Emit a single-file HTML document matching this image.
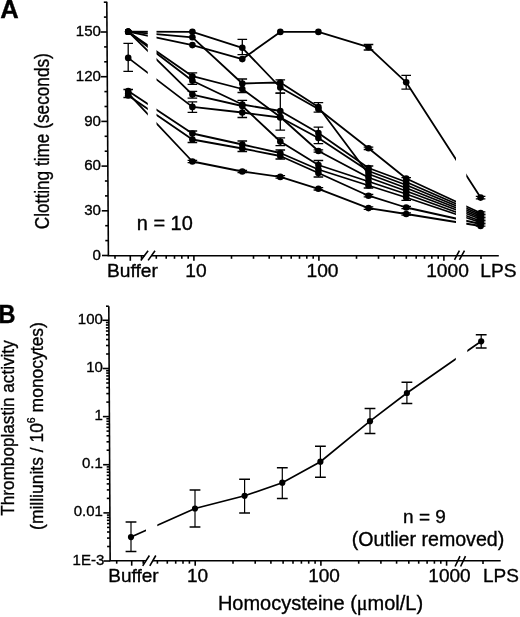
<!DOCTYPE html><html><head><meta charset="utf-8"><style>html,body{margin:0;padding:0;background:#fff;width:520px;height:617px;overflow:hidden}svg{display:block;filter:grayscale(1)}</style></head><body><svg width="520" height="617" viewBox="0 0 520 617">
<rect width="520" height="617" fill="#fff"/>
<g stroke="#000" stroke-width="1.8" fill="none" stroke-linejoin="round">
<polyline points="128.2,31.7 192.4,31.8 242.3,47.8 280.3,87.5 318.4,109.0 368.5,148.3 406.2,178.5 480.6,213.0"/>
<polyline points="128.2,31.7 192.4,37.3 242.3,83.5 280.3,82.5 318.4,107.0 368.5,174.0 406.2,188.0 480.6,217.5"/>
<polyline points="128.2,31.7 192.4,45.1 242.3,59.1 280.3,31.9 318.4,31.9 368.5,47.2 406.2,82.3 480.6,197.6"/>
<polyline points="128.2,31.7 192.4,76.2 242.3,89.0 280.3,117.0 318.4,151.0 368.5,177.5 406.2,191.0 480.6,219.0"/>
<polyline points="128.2,31.7 192.4,80.8 242.3,104.5 280.3,111.0 318.4,133.0 368.5,168.0 406.2,182.0 480.6,214.5"/>
<polyline points="128.2,31.7 192.4,94.6 242.3,106.0 280.3,141.5 318.4,165.0 368.5,181.5 406.2,194.0 480.6,221.0"/>
<polyline points="128.2,57.9 192.4,106.9 242.3,112.5 280.3,117.5 318.4,138.0 368.5,171.0 406.2,185.0 480.6,216.0"/>
<polyline points="128.2,91.1 192.4,133.5 242.3,144.5 280.3,153.0 318.4,169.5 368.5,185.5 406.2,197.5 480.6,222.5"/>
<polyline points="128.2,95.4 192.4,139.5 242.3,148.5 280.3,156.0 318.4,173.0 368.5,195.7 406.2,207.5 480.6,224.0"/>
<polyline points="128.2,93.4 192.4,161.5 242.3,171.5 280.3,176.9 318.4,188.8 368.5,208.1 406.2,214.0 480.6,226.0"/>
</g>
<rect x="147.8" y="0" width="8.7" height="250" fill="#fff"/>
<rect x="456" y="0" width="10.3" height="250" fill="#fff"/>
<g stroke="#000" stroke-width="1.3" fill="none">
<path d="M128.2 43.3V71.4M123.4 43.3H133.0M123.4 71.4H133.0"/>
<path d="M128.2 89.5V97.5M123.4 89.5H133.0M123.4 97.5H133.0"/>
<path d="M192.4 72.8V84.4M187.6 72.8H197.2M187.6 84.4H197.2"/>
<path d="M192.4 91.3V98.1M187.6 91.3H197.2M187.6 98.1H197.2"/>
<path d="M192.4 101.9V112.3M187.6 101.9H197.2M187.6 112.3H197.2"/>
<path d="M192.4 131.0V142.5M187.6 131.0H197.2M187.6 142.5H197.2"/>
<path d="M192.4 160.3V162.7M187.6 160.3H197.2M187.6 162.7H197.2"/>
<path d="M242.3 39.4V54.6M237.5 39.4H247.1M237.5 54.6H247.1"/>
<path d="M242.3 79.0V92.5M237.5 79.0H247.1M237.5 92.5H247.1"/>
<path d="M242.3 100.3V117.5M237.5 100.3H247.1M237.5 117.5H247.1"/>
<path d="M242.3 141.0V151.5M237.5 141.0H247.1M237.5 151.5H247.1"/>
<path d="M242.3 170.3V172.7M237.5 170.3H247.1M237.5 172.7H247.1"/>
<path d="M280.3 79.8V93.1M275.5 79.8H285.1M275.5 93.1H285.1"/>
<path d="M280.3 93.1V130.2M275.5 93.1H285.1M275.5 130.2H285.1"/>
<path d="M280.3 137.8V145.7M275.5 137.8H285.1M275.5 145.7H285.1"/>
<path d="M280.3 150.0V159.0M275.5 150.0H285.1M275.5 159.0H285.1"/>
<path d="M280.3 175.7V178.1M275.5 175.7H285.1M275.5 178.1H285.1"/>
<path d="M318.4 102.7V112.2M313.6 102.7H323.2M313.6 112.2H323.2"/>
<path d="M318.4 127.2V143.6M313.6 127.2H323.2M313.6 143.6H323.2"/>
<path d="M318.4 149.8V152.2M313.6 149.8H323.2M313.6 152.2H323.2"/>
<path d="M318.4 160.5V177.0M313.6 160.5H323.2M313.6 177.0H323.2"/>
<path d="M318.4 187.6V190.0M313.6 187.6H323.2M313.6 190.0H323.2"/>
<path d="M368.5 44.5V50.0M363.7 44.5H373.3M363.7 50.0H373.3"/>
<path d="M368.5 147.1V149.5M363.7 147.1H373.3M363.7 149.5H373.3"/>
<path d="M368.5 166.0V188.0M363.7 166.0H373.3M363.7 188.0H373.3"/>
<path d="M368.5 194.5V196.9M363.7 194.5H373.3M363.7 196.9H373.3"/>
<path d="M368.5 206.9V209.3M363.7 206.9H373.3M363.7 209.3H373.3"/>
<path d="M406.2 75.4V89.2M401.4 75.4H411.0M401.4 89.2H411.0"/>
<path d="M406.2 177.6V200.3M401.4 177.6H411.0M401.4 200.3H411.0"/>
<path d="M406.2 206.3V208.7M401.4 206.3H411.0M401.4 208.7H411.0"/>
<path d="M406.2 212.8V215.2M401.4 212.8H411.0M401.4 215.2H411.0"/>
<path d="M480.6 196.4V198.8M475.8 196.4H485.4M475.8 198.8H485.4"/>
<path d="M480.6 211.8V214.2M475.8 211.8H485.4M475.8 214.2H485.4"/>
<path d="M480.6 214.8V217.2M475.8 214.8H485.4M475.8 217.2H485.4"/>
<path d="M480.6 217.8V220.2M475.8 217.8H485.4M475.8 220.2H485.4"/>
<path d="M480.6 220.8V223.2M475.8 220.8H485.4M475.8 223.2H485.4"/>
<path d="M480.6 223.8V226.2M475.8 223.8H485.4M475.8 226.2H485.4"/>
</g>
<g fill="#000">
<circle cx="128.2" cy="31.7" r="3.3"/>
<circle cx="192.4" cy="31.8" r="3.3"/>
<circle cx="242.3" cy="47.8" r="3.3"/>
<circle cx="280.3" cy="87.5" r="3.3"/>
<circle cx="318.4" cy="109.0" r="3.3"/>
<circle cx="368.5" cy="148.3" r="3.3"/>
<circle cx="406.2" cy="178.5" r="3.3"/>
<circle cx="480.6" cy="213.0" r="3.3"/>
<circle cx="128.2" cy="31.7" r="3.3"/>
<circle cx="192.4" cy="37.3" r="3.3"/>
<circle cx="242.3" cy="83.5" r="3.3"/>
<circle cx="280.3" cy="82.5" r="3.3"/>
<circle cx="318.4" cy="107.0" r="3.3"/>
<circle cx="368.5" cy="174.0" r="3.3"/>
<circle cx="406.2" cy="188.0" r="3.3"/>
<circle cx="480.6" cy="217.5" r="3.3"/>
<circle cx="128.2" cy="31.7" r="3.3"/>
<circle cx="192.4" cy="45.1" r="3.3"/>
<circle cx="242.3" cy="59.1" r="3.3"/>
<circle cx="280.3" cy="31.9" r="3.3"/>
<circle cx="318.4" cy="31.9" r="3.3"/>
<circle cx="368.5" cy="47.2" r="3.3"/>
<circle cx="406.2" cy="82.3" r="3.3"/>
<circle cx="480.6" cy="197.6" r="3.3"/>
<circle cx="128.2" cy="31.7" r="3.3"/>
<circle cx="192.4" cy="76.2" r="3.3"/>
<circle cx="242.3" cy="89.0" r="3.3"/>
<circle cx="280.3" cy="117.0" r="3.3"/>
<circle cx="318.4" cy="151.0" r="3.3"/>
<circle cx="368.5" cy="177.5" r="3.3"/>
<circle cx="406.2" cy="191.0" r="3.3"/>
<circle cx="480.6" cy="219.0" r="3.3"/>
<circle cx="128.2" cy="31.7" r="3.3"/>
<circle cx="192.4" cy="80.8" r="3.3"/>
<circle cx="242.3" cy="104.5" r="3.3"/>
<circle cx="280.3" cy="111.0" r="3.3"/>
<circle cx="318.4" cy="133.0" r="3.3"/>
<circle cx="368.5" cy="168.0" r="3.3"/>
<circle cx="406.2" cy="182.0" r="3.3"/>
<circle cx="480.6" cy="214.5" r="3.3"/>
<circle cx="128.2" cy="31.7" r="3.3"/>
<circle cx="192.4" cy="94.6" r="3.3"/>
<circle cx="242.3" cy="106.0" r="3.3"/>
<circle cx="280.3" cy="141.5" r="3.3"/>
<circle cx="318.4" cy="165.0" r="3.3"/>
<circle cx="368.5" cy="181.5" r="3.3"/>
<circle cx="406.2" cy="194.0" r="3.3"/>
<circle cx="480.6" cy="221.0" r="3.3"/>
<circle cx="128.2" cy="57.9" r="3.3"/>
<circle cx="192.4" cy="106.9" r="3.3"/>
<circle cx="242.3" cy="112.5" r="3.3"/>
<circle cx="280.3" cy="117.5" r="3.3"/>
<circle cx="318.4" cy="138.0" r="3.3"/>
<circle cx="368.5" cy="171.0" r="3.3"/>
<circle cx="406.2" cy="185.0" r="3.3"/>
<circle cx="480.6" cy="216.0" r="3.3"/>
<circle cx="128.2" cy="91.1" r="3.3"/>
<circle cx="192.4" cy="133.5" r="3.3"/>
<circle cx="242.3" cy="144.5" r="3.3"/>
<circle cx="280.3" cy="153.0" r="3.3"/>
<circle cx="318.4" cy="169.5" r="3.3"/>
<circle cx="368.5" cy="185.5" r="3.3"/>
<circle cx="406.2" cy="197.5" r="3.3"/>
<circle cx="480.6" cy="222.5" r="3.3"/>
<circle cx="128.2" cy="95.4" r="3.3"/>
<circle cx="192.4" cy="139.5" r="3.3"/>
<circle cx="242.3" cy="148.5" r="3.3"/>
<circle cx="280.3" cy="156.0" r="3.3"/>
<circle cx="318.4" cy="173.0" r="3.3"/>
<circle cx="368.5" cy="195.7" r="3.3"/>
<circle cx="406.2" cy="207.5" r="3.3"/>
<circle cx="480.6" cy="224.0" r="3.3"/>
<circle cx="128.2" cy="93.4" r="3.3"/>
<circle cx="192.4" cy="161.5" r="3.3"/>
<circle cx="242.3" cy="171.5" r="3.3"/>
<circle cx="280.3" cy="176.9" r="3.3"/>
<circle cx="318.4" cy="188.8" r="3.3"/>
<circle cx="368.5" cy="208.1" r="3.3"/>
<circle cx="406.2" cy="214.0" r="3.3"/>
<circle cx="480.6" cy="226.0" r="3.3"/>
</g>
<g stroke="#000" stroke-width="1.6" fill="none" stroke-linecap="butt">
<path d="M106.8 1.7L108.4 255.8"/>
<path d="M107.6 255.8H144.5M151.5 255.8H498.8"/>
<path d="M102 255.5H108.4"/>
<path d="M105.3 240.6H108.3"/>
<path d="M105.2 225.7H108.2"/>
<path d="M101.8 210.8H108.1"/>
<path d="M105.0 195.9H108.0"/>
<path d="M104.9 181.0H107.9"/>
<path d="M101.5 166.1H107.8"/>
<path d="M104.7 151.2H107.7"/>
<path d="M104.6 136.3H107.6"/>
<path d="M101.3 121.4H107.6"/>
<path d="M104.5 106.5H107.5"/>
<path d="M104.4 91.6H107.4"/>
<path d="M101.0 76.7H107.3"/>
<path d="M104.2 61.8H107.2"/>
<path d="M104.1 46.9H107.1"/>
<path d="M100.7 32.0H107.0"/>
<path d="M103.9 17.1H106.9"/>
<path d="M103.8 2.2H106.8"/>
<path d="M115.0 255.8V258.8"/>
<path d="M141.5 255.8V258.8"/>
<path d="M130.3 255.8V260.8"/>
<path d="M193.9 255.8V260.8"/>
<path d="M231.5 255.8V258.8"/>
<path d="M253.5 255.8V258.8"/>
<path d="M269.2 255.8V258.8"/>
<path d="M281.3 255.8V258.8"/>
<path d="M291.2 255.8V258.8"/>
<path d="M299.5 255.8V258.8"/>
<path d="M306.8 255.8V258.8"/>
<path d="M313.2 255.8V258.8"/>
<path d="M318.9 255.8V260.8"/>
<path d="M356.5 255.8V258.8"/>
<path d="M378.5 255.8V258.8"/>
<path d="M394.2 255.8V258.8"/>
<path d="M406.3 255.8V258.8"/>
<path d="M416.2 255.8V258.8"/>
<path d="M424.5 255.8V258.8"/>
<path d="M431.8 255.8V258.8"/>
<path d="M438.2 255.8V258.8"/>
<path d="M443.9 255.8V260.8"/>
<path d="M156.3 255.8V258.8"/>
<path d="M166.2 255.8V258.8"/>
<path d="M174.5 255.8V258.8"/>
<path d="M181.8 255.8V258.8"/>
<path d="M188.2 255.8V258.8"/>
<path d="M481.0 255.8V259.0"/>
<path d="M140.8 260.4L148.1 250.8M148.1 260.4L155 250.8"/>
<path d="M454.5 259.8L459.4 250.6M459.4 259.8L464.5 250.6"/>
</g>
<g stroke="#000" stroke-width="1.6" fill="none">
<path d="M108.8 306.2L110.15 560.7"/>
<path d="M109.4 560.7H146M152.8 560.7H500.7"/>
<path d="M106 306.2H108.8"/>
<path d="M103.7 561.0H110.2"/>
<path d="M107.1 546.5H110.1"/>
<path d="M107.0 538.1H110.0"/>
<path d="M107.0 532.0H110.0"/>
<path d="M107.0 527.4H110.0"/>
<path d="M107.0 523.6H110.0"/>
<path d="M106.9 520.3H109.9"/>
<path d="M106.9 517.5H109.9"/>
<path d="M106.9 515.1H109.9"/>
<path d="M103.4 512.9H109.9"/>
<path d="M106.8 498.4H109.8"/>
<path d="M106.8 489.9H109.8"/>
<path d="M106.7 483.9H109.7"/>
<path d="M106.7 479.2H109.7"/>
<path d="M106.7 475.4H109.7"/>
<path d="M106.7 472.2H109.7"/>
<path d="M106.7 469.4H109.7"/>
<path d="M106.7 466.9H109.7"/>
<path d="M103.1 464.7H109.6"/>
<path d="M106.6 450.2H109.6"/>
<path d="M106.5 441.8H109.5"/>
<path d="M106.5 435.8H109.5"/>
<path d="M106.5 431.1H109.5"/>
<path d="M106.4 427.3H109.4"/>
<path d="M106.4 424.1H109.4"/>
<path d="M106.4 421.3H109.4"/>
<path d="M106.4 418.8H109.4"/>
<path d="M102.9 416.6H109.4"/>
<path d="M106.3 402.1H109.3"/>
<path d="M106.3 393.6H109.3"/>
<path d="M106.2 387.6H109.2"/>
<path d="M106.2 383.0H109.2"/>
<path d="M106.2 379.1H109.2"/>
<path d="M106.2 375.9H109.2"/>
<path d="M106.2 373.1H109.2"/>
<path d="M106.1 370.7H109.1"/>
<path d="M102.6 368.5H109.1"/>
<path d="M106.1 354.0H109.1"/>
<path d="M106.0 345.5H109.0"/>
<path d="M106.0 339.5H109.0"/>
<path d="M106.0 334.8H109.0"/>
<path d="M105.9 331.0H108.9"/>
<path d="M105.9 327.8H108.9"/>
<path d="M105.9 325.0H108.9"/>
<path d="M105.9 322.5H108.9"/>
<path d="M102.4 320.3H108.9"/>
<path d="M116.7 560.7V563.7"/>
<path d="M143.2 560.7V563.7"/>
<path d="M131.7 560.7V565.7"/>
<path d="M195.2 560.7V565.7"/>
<path d="M233.0 560.7V563.7"/>
<path d="M255.2 560.7V563.7"/>
<path d="M270.9 560.7V563.7"/>
<path d="M283.1 560.7V563.7"/>
<path d="M293.0 560.7V563.7"/>
<path d="M301.4 560.7V563.7"/>
<path d="M308.7 560.7V563.7"/>
<path d="M315.1 560.7V563.7"/>
<path d="M320.9 560.7V565.7"/>
<path d="M358.7 560.7V563.7"/>
<path d="M380.9 560.7V563.7"/>
<path d="M396.6 560.7V563.7"/>
<path d="M408.8 560.7V563.7"/>
<path d="M418.7 560.7V563.7"/>
<path d="M427.1 560.7V563.7"/>
<path d="M434.4 560.7V563.7"/>
<path d="M440.8 560.7V563.7"/>
<path d="M446.6 560.7V565.7"/>
<path d="M157.4 560.7V563.7"/>
<path d="M167.3 560.7V563.7"/>
<path d="M175.7 560.7V563.7"/>
<path d="M183.0 560.7V563.7"/>
<path d="M189.4 560.7V563.7"/>
<path d="M483.0 560.7V563.9"/>
<path d="M142.7 565.9L149.4 555.5M149.8 565.9L155.8 555.5"/>
<path d="M455.1 566.5L460 556.1M460.6 566.5L465.5 556.1"/>
</g>
<polyline points="131,537.1 195,508.5 244.6,495.8 282.3,482.7 320.4,461.7 370,421.2 406.9,393 481.2,341.3" stroke="#000" stroke-width="1.65" fill="none"/>
<rect x="146" y="500" width="11.3" height="50" fill="#fff"/>
<rect x="455.8" y="340" width="11.5" height="30" fill="#fff"/>
<g stroke="#000" stroke-width="1.3" fill="none">
<path d="M131 522.1V551.4" stroke-width="1.2"/><path d="M125.6 522.1H136.4M125.6 551.4H136.4" stroke-width="1.5"/>
<path d="M195 490V527" stroke-width="1.2"/><path d="M189.6 490H200.4M189.6 527H200.4" stroke-width="1.5"/>
<path d="M244.6 479.2V513" stroke-width="1.2"/><path d="M239.2 479.2H250.0M239.2 513H250.0" stroke-width="1.5"/>
<path d="M282.3 467.7V498.5" stroke-width="1.2"/><path d="M276.90000000000003 467.7H287.7M276.90000000000003 498.5H287.7" stroke-width="1.5"/>
<path d="M320.4 446.3V477.2" stroke-width="1.2"/><path d="M315.0 446.3H325.79999999999995M315.0 477.2H325.79999999999995" stroke-width="1.5"/>
<path d="M370 408.5V433.5" stroke-width="1.2"/><path d="M364.6 408.5H375.4M364.6 433.5H375.4" stroke-width="1.5"/>
<path d="M406.9 382.3V403.5" stroke-width="1.2"/><path d="M401.5 382.3H412.29999999999995M401.5 403.5H412.29999999999995" stroke-width="1.5"/>
<path d="M481.2 334.7V348" stroke-width="1.2"/><path d="M475.8 334.7H486.59999999999997M475.8 348H486.59999999999997" stroke-width="1.5"/>
</g>
<g fill="#000">
<circle cx="131" cy="537.1" r="3.1"/>
<circle cx="195" cy="508.5" r="3.1"/>
<circle cx="244.6" cy="495.8" r="3.1"/>
<circle cx="282.3" cy="482.7" r="3.1"/>
<circle cx="320.4" cy="461.7" r="3.1"/>
<circle cx="370" cy="421.2" r="3.1"/>
<circle cx="406.9" cy="393" r="3.1"/>
<circle cx="481.2" cy="341.3" r="3.1"/>
</g>
<g font-family="Liberation Sans, sans-serif" fill="#000" stroke="#000" stroke-width="0.35">
<text x="0.2" y="18.2" font-size="25" text-anchor="start" textLength="18.5" lengthAdjust="spacingAndGlyphs" font-weight="bold">A</text>
<text x="-1.5" y="322.8" font-size="25" text-anchor="start" textLength="17" lengthAdjust="spacingAndGlyphs" font-weight="bold">B</text>
<text x="101.0" y="36.1" font-size="15.1" text-anchor="end">150</text>
<text x="101.0" y="80.79999999999998" font-size="15.1" text-anchor="end">120</text>
<text x="101.0" y="125.5" font-size="15.1" text-anchor="end">90</text>
<text x="101.0" y="170.2" font-size="15.1" text-anchor="end">60</text>
<text x="101.0" y="214.9" font-size="15.1" text-anchor="end">30</text>
<text x="101.0" y="259.6" font-size="15.1" text-anchor="end">0</text>
<text x="102.9" y="323.9200000000001" font-size="15" text-anchor="end">100</text>
<text x="102.9" y="372.06000000000006" font-size="15" text-anchor="end">10</text>
<text x="102.9" y="420.20000000000005" font-size="15" text-anchor="end">1</text>
<text x="102.9" y="468.34000000000003" font-size="15" text-anchor="end">0.1</text>
<text x="102.9" y="516.48" font-size="15" text-anchor="end">0.01</text>
<text x="104.30000000000001" y="564.62" font-size="15" text-anchor="end">1E-3</text>
<text x="132.5" y="277" font-size="19.2" text-anchor="middle">Buffer</text>
<text x="196" y="277" font-size="19.2" text-anchor="middle">10</text>
<text x="322.5" y="277" font-size="19.2" text-anchor="middle">100</text>
<text x="447.5" y="277" font-size="19.2" text-anchor="middle">1000</text>
<text x="498.5" y="277" font-size="19.2" text-anchor="middle">LPS</text>
<text x="133.5" y="582.2" font-size="19" text-anchor="middle">Buffer</text>
<text x="197.6" y="582.2" font-size="19" text-anchor="middle">10</text>
<text x="324" y="582.2" font-size="19" text-anchor="middle">100</text>
<text x="449.5" y="582.2" font-size="19" text-anchor="middle">1000</text>
<text x="501" y="582.2" font-size="19" text-anchor="middle">LPS</text>
<text x="136.8" y="230.3" font-size="19.3" text-anchor="start" textLength="56" lengthAdjust="spacingAndGlyphs">n = 10</text>
<text x="424.5" y="522.8" font-size="19" text-anchor="middle">n = 9</text>
<text x="428" y="545.5" font-size="19.6" text-anchor="middle">(Outlier removed)</text>
<text x="320.5" y="610.2" font-size="20" text-anchor="middle">Homocysteine (<tspan font-family="Liberation Serif">&#956;</tspan>mol/L)</text>
<text transform="translate(48.9,141.2) rotate(-90)" font-size="19.5" text-anchor="middle" textLength="176" lengthAdjust="spacingAndGlyphs">Clotting time (seconds)</text>
<text transform="translate(14.3,428) rotate(-90)" font-size="19" text-anchor="middle" textLength="175.4" lengthAdjust="spacingAndGlyphs">Thromboplastin activity</text>
<text transform="translate(42.9,426) rotate(-90) scale(0.92,1)" font-size="19" text-anchor="middle">(milliunits / 10<tspan font-size="11.5" dy="-7.5">6</tspan><tspan dy="7.5"> monocytes)</tspan></text>
</g>
</svg></body></html>
